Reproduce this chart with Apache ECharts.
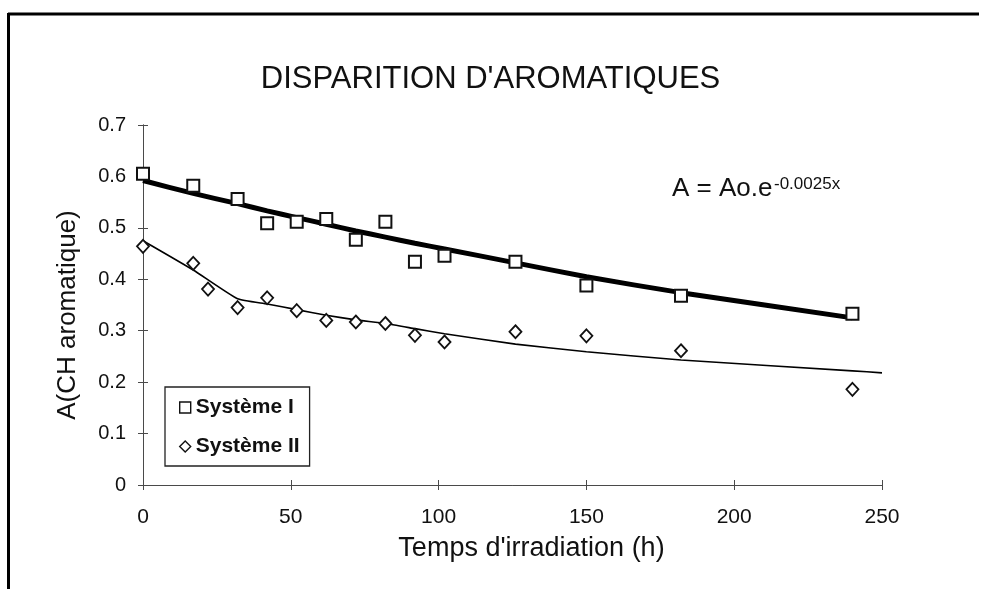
<!DOCTYPE html>
<html>
<head>
<meta charset="utf-8">
<title>Disparition d'aromatiques</title>
<script src="https://cdn.jsdelivr.net/npm/echarts@6/dist/echarts.min.js"></script>
<style>
  html, body { margin: 0; padding: 0; background: #fff; }
  #chart { width: 981px; height: 589px; }
</style>
</head>
<body>
<div id="chart"></div>
<script>
// Measured absorbances of the aromatic C-H band versus irradiation time (h)
var sysIHours  = [0, 17, 32, 42, 52, 62, 72, 82, 92, 102, 126, 150, 182, 240];
var sysIAbs    = [0.605, 0.582, 0.556, 0.509, 0.512, 0.517, 0.477, 0.512, 0.434, 0.446, 0.434, 0.388, 0.368, 0.333];

var sysIIHours = [0, 17, 22, 32, 42, 52, 62, 72, 82, 92, 102, 126, 150, 182, 240];
var sysIIAbs   = [0.464, 0.431, 0.381, 0.345, 0.364, 0.339, 0.320, 0.317, 0.314, 0.291, 0.278, 0.298, 0.290, 0.261, 0.186];

// Fitted curves (A = Ao.e^-kx) sampled along the time axis
var fitIHours  = [0, 17, 32, 42, 52, 62, 72, 82, 92, 102, 126, 150, 182, 240];
var fitIAbs    = [0.592, 0.567, 0.547, 0.533, 0.520, 0.507, 0.494, 0.482, 0.470, 0.459, 0.432, 0.405, 0.374, 0.325];

var fitIIHours = [0, 17, 32, 42, 52, 62, 72, 82, 92, 102, 126, 150, 182, 240, 250];
var fitIIAbs   = [0.475, 0.418, 0.362, 0.352, 0.341, 0.330, 0.321, 0.314, 0.304, 0.294, 0.274, 0.259, 0.243, 0.222, 0.218];

var xTickLabels = ['0', '50', '100', '150', '200', '250'];
var yTickLabels = ['0', '0.1', '0.2', '0.3', '0.4', '0.5', '0.6', '0.7'];

function pairs(xs, ys) {
  return xs.map(function (x, i) { return [x, ys[i]]; });
}

var FONT = '"Liberation Sans", Arial, Helvetica, sans-serif';
var AXIS_COLOR = '#4a4a4a';

var chart = echarts.init(document.getElementById('chart'), null, { renderer: 'canvas' });

var grid = { left: 143, right: 99, top: 125, bottom: 104, containLabel: false };

function xAxisBase(inside, showLabel) {
  return {
    type: 'value', min: 0, max: 250, interval: 50,
    position: 'bottom',
    axisLine: { show: true, onZero: false, lineStyle: { color: AXIS_COLOR, width: 1 } },
    axisTick: { show: true, inside: inside, length: 5, lineStyle: { color: AXIS_COLOR, width: 1 } },
    splitLine: { show: false },
    axisLabel: {
      show: showLabel, margin: 22, color: '#111', fontFamily: FONT, fontSize: 21,
      formatter: function (v, i) { return xTickLabels[i]; }
    }
  };
}

function yAxisBase(inside, showLabel) {
  return {
    type: 'value', min: 0, max: 0.7, interval: 0.1,
    position: 'left',
    axisLine: { show: true, onZero: false, lineStyle: { color: AXIS_COLOR, width: 1 } },
    axisTick: { show: true, inside: inside, length: 5, lineStyle: { color: AXIS_COLOR, width: 1 } },
    splitLine: { show: false },
    axisLabel: {
      show: showLabel, margin: 17, color: '#111', fontFamily: FONT, fontSize: 20,
      formatter: function (v, i) { return yTickLabels[i]; }
    }
  };
}

var xMain = xAxisBase(false, true);
xMain.name = "Temps d'irradiation (h)";
xMain.nameLocation = 'middle';
xMain.nameGap = 50;
xMain.nameTextStyle = { color: '#111', fontFamily: FONT, fontSize: 27, padding: [0, 0, 0, 38] };

var yMain = yAxisBase(false, true);
yMain.name = 'A(CH aromatique)';
yMain.nameLocation = 'middle';
yMain.nameGap = 62;
yMain.nameTextStyle = { color: '#111', fontFamily: FONT, fontSize: 26, padding: [0, 0, 0, -20] };

var option = {
  backgroundColor: '#ffffff',
  animation: false,
  title: {
    text: "DISPARITION D'AROMATIQUES",
    left: 'center',
    top: 59,
    textStyle: { color: '#111', fontFamily: FONT, fontSize: 31, fontWeight: 'normal' }
  },
  grid: grid,
  xAxis: [xMain, xAxisBase(true, false)],
  yAxis: [yMain, yAxisBase(true, false)],
  legend: {
    orient: 'vertical',
    left: 165,
    top: 387,
    itemWidth: 11,
    itemHeight: 11,
    itemGap: 18,
    padding: [10, 10, 9, 14],
    backgroundColor: '#fff',
    borderColor: '#222',
    borderWidth: 1.3,
    textStyle: { color: '#111', fontFamily: FONT, fontSize: 21, fontWeight: 'bold' },
    data: [
      { name: 'Système I', icon: 'rect', itemStyle: { color: '#fff', borderColor: '#111', borderWidth: 1.4 } },
      { name: 'Système II', icon: 'diamond', itemStyle: { color: '#fff', borderColor: '#111', borderWidth: 1.4 } }
    ]
  },
  graphic: [
    // page frame (top and left edges)
    { type: 'line', shape: { x1: 8, y1: 14, x2: 979, y2: 14 }, style: { stroke: '#000', lineWidth: 3 }, silent: true },
    { type: 'line', shape: { x1: 8.5, y1: 13, x2: 8.5, y2: 589 }, style: { stroke: '#000', lineWidth: 3 }, silent: true },
    // fitted law
    { type: 'text', left: 672, top: 176, style: { text: 'A = Ao.e', fill: '#111', font: '26px ' + FONT } },
    { type: 'text', left: 774, top: 176, style: { text: '-0.0025x', fill: '#111', font: '17px ' + FONT } }
  ],
  series: [
    {
      name: 'fit I', type: 'line', xAxisIndex: 0, yAxisIndex: 0,
      data: pairs(fitIHours, fitIAbs), showSymbol: false, symbol: 'none',
      smooth: 0.2, lineStyle: { color: '#000', width: 5 }, silent: true, z: 2
    },
    {
      name: 'fit II', type: 'line', xAxisIndex: 0, yAxisIndex: 0,
      data: pairs(fitIIHours, fitIIAbs), showSymbol: false, symbol: 'none',
      smooth: 0.15, lineStyle: { color: '#000', width: 1.6 }, silent: true, z: 2
    },
    {
      name: 'Système I', type: 'scatter', xAxisIndex: 0, yAxisIndex: 0,
      data: pairs(sysIHours, sysIAbs), symbol: 'rect', symbolSize: 12,
      itemStyle: { color: '#fff', borderColor: '#111', borderWidth: 2, opacity: 1 }, z: 3
    },
    {
      name: 'Système II', type: 'scatter', xAxisIndex: 0, yAxisIndex: 0,
      data: pairs(sysIIHours, sysIIAbs), symbol: 'diamond', symbolSize: [12, 13],
      itemStyle: { color: '#fff', borderColor: '#111', borderWidth: 1.8, opacity: 1 }, z: 3
    }
  ]
};

chart.setOption(option);
</script>
</body>
</html>
